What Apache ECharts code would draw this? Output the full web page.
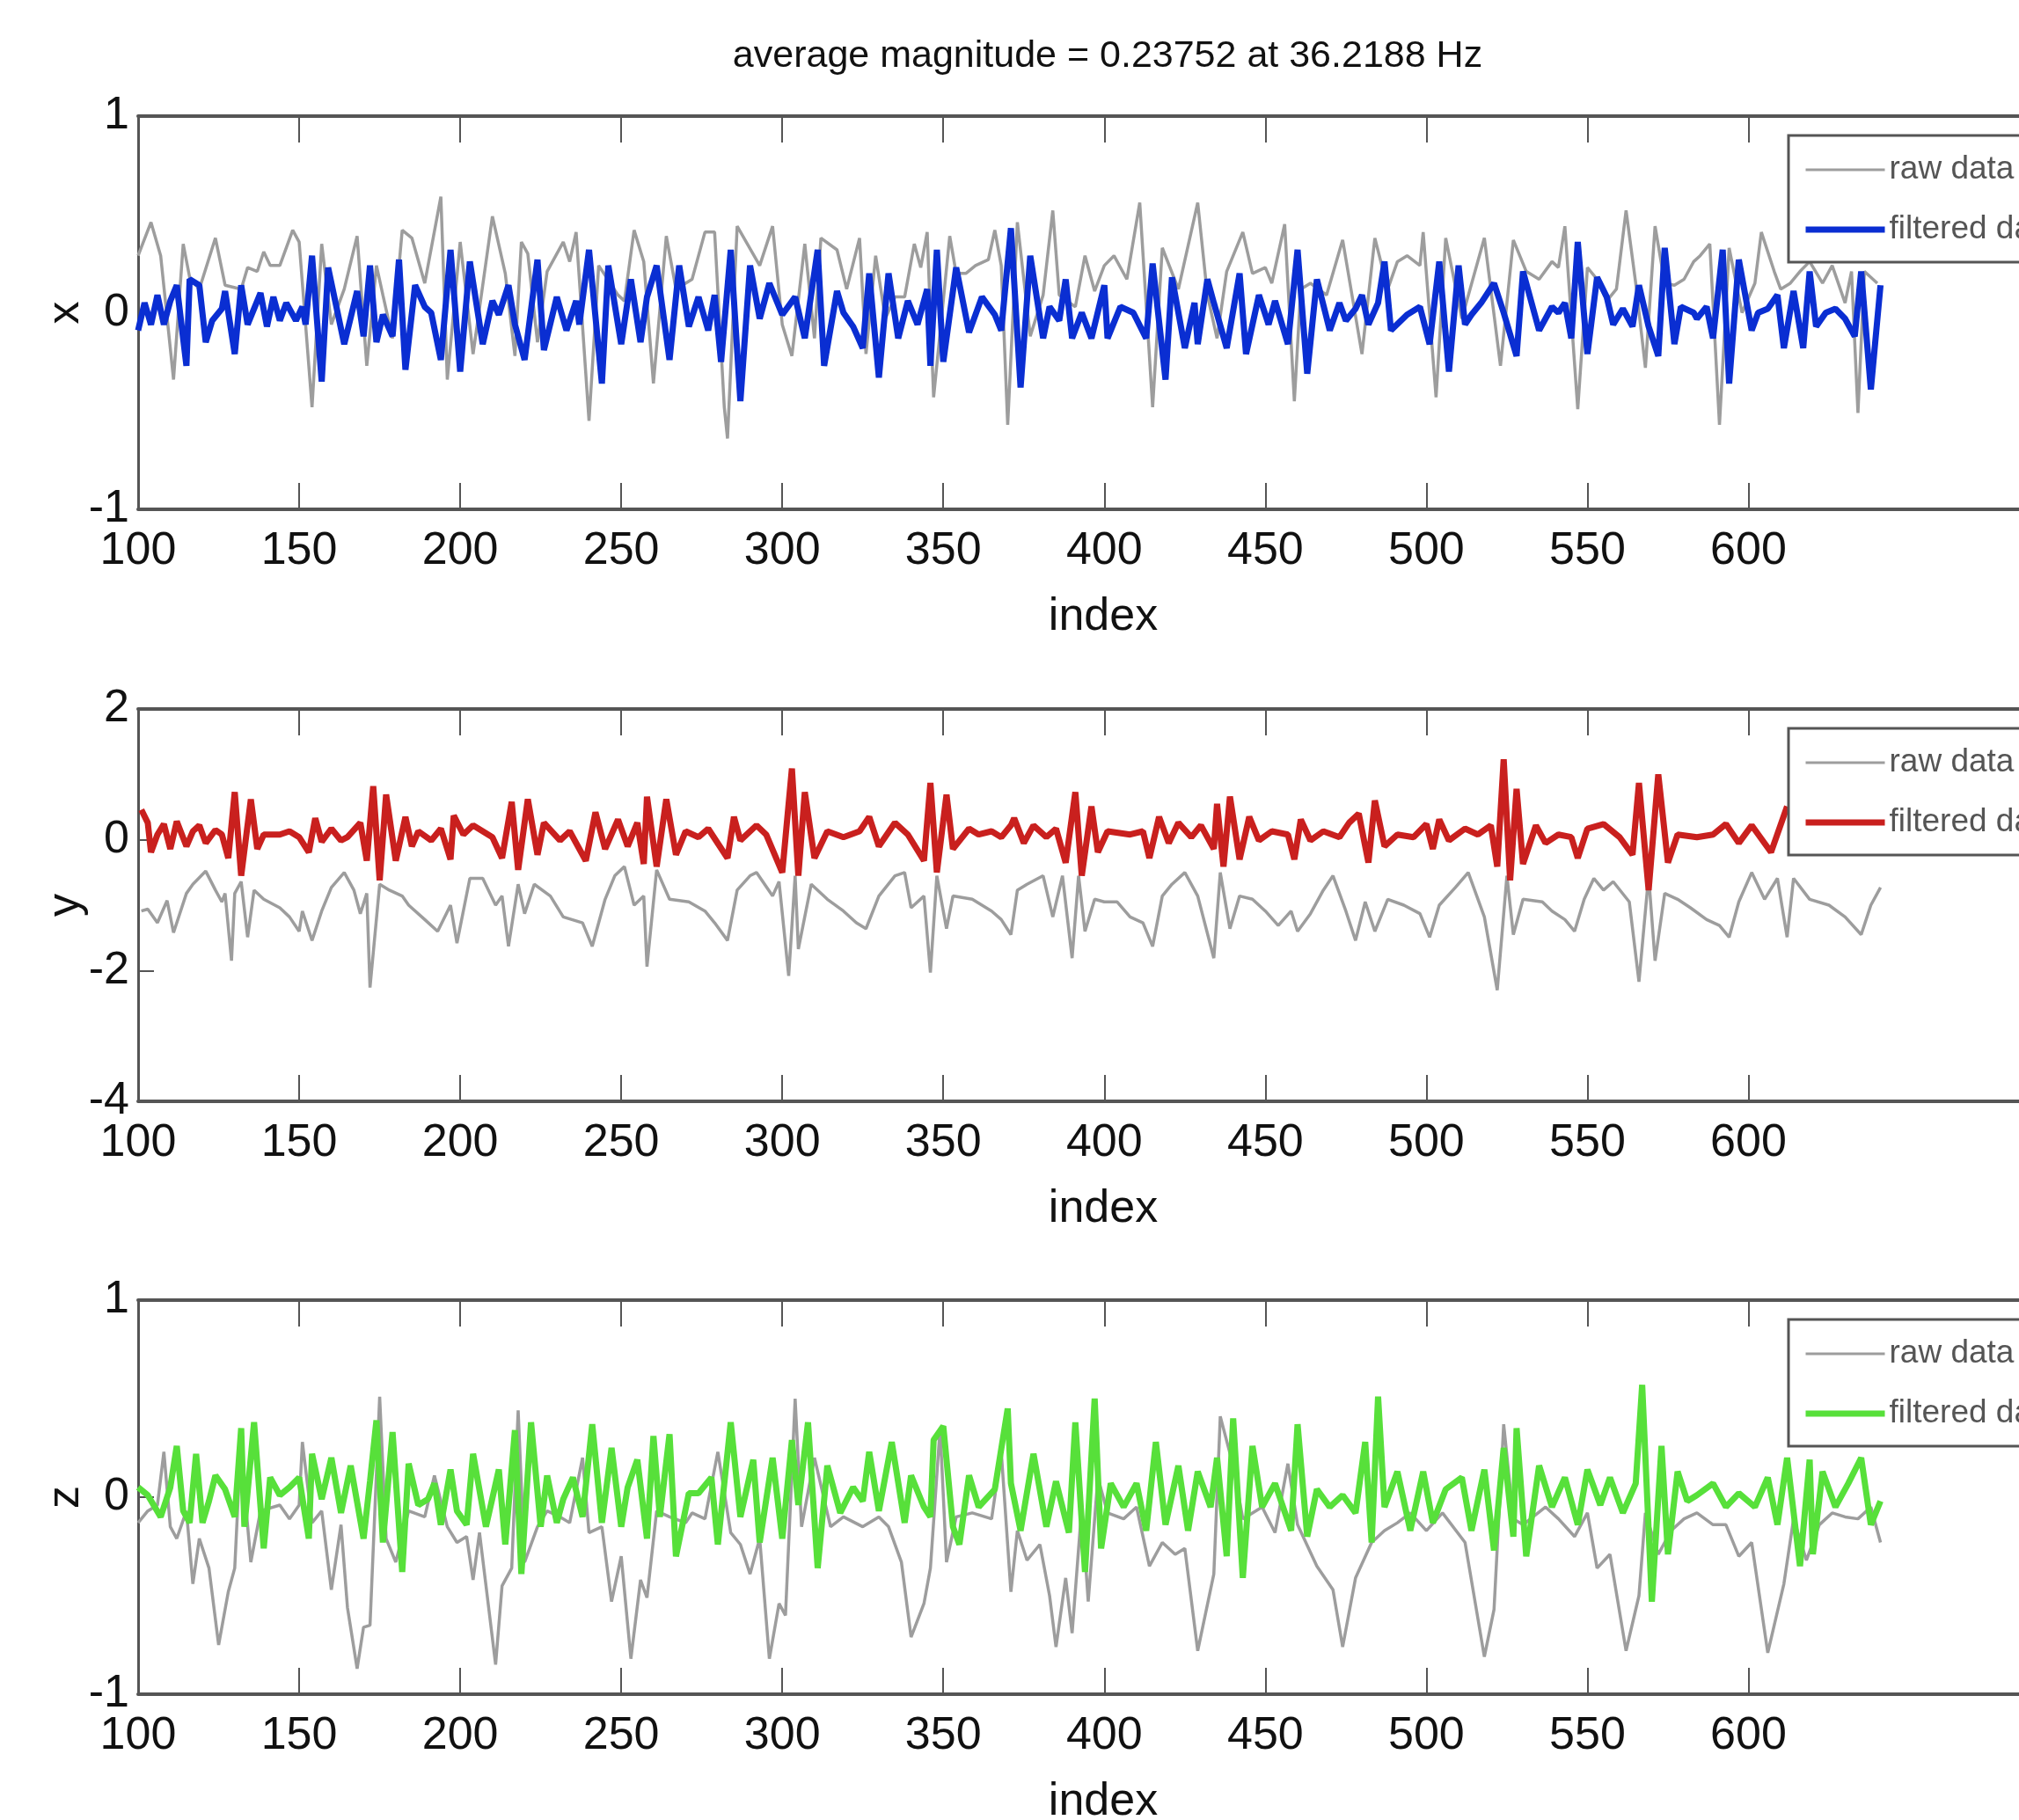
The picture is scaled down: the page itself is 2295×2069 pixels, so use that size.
<!DOCTYPE html>
<html>
<head>
<meta charset="utf-8">
<title>raw vs filtered</title>
<script src="https://cdn.jsdelivr.net/npm/echarts@6.0.0/dist/echarts.min.js"></script>
<style>
  html, body { margin: 0; padding: 0; background: #fff; }
  #chart { width: 2295px; height: 2069px; }
</style>
</head>
<body>
<div id="chart"></div>
<script>
// values: [index, value]
const xTickValues = [100, 150, 200, 250, 300, 350, 400, 450, 500, 550, 600]

const xRaw = [
  [100,0.29],[104,0.46],[107,0.29],[111,-0.34],[114,0.35],[116,0.18],[119,0.12],[124,0.38],[127,0.14],[132,0.12],
  [134,0.23],[137,0.21],[139,0.31],[141,0.24],[144,0.24],[148,0.42],[150,0.36],[154,-0.48],[157,0.35],[160,-0.06],
  [164,0.12],[168,0.39],[171,-0.27],[174,0.24],[176,0.09],[179,-0.13],[182,0.42],[185,0.38],[189,0.15],[194,0.59],
  [196,-0.34],[200,0.36],[204,-0.21],[210,0.49],[214,0.20],[217,-0.22],[219,0.36],[221,0.30],[224,-0.15],[227,0.21],
  [232,0.36],[234,0.26],[236,0.41],[240,-0.55],[243,0.24],[249,0.09],[251,0.06],[254,0.42],[257,0.26],[260,-0.36],
  [264,0.39],[267,0.12],[272,0.17],[276,0.41],[279,0.41],[282,-0.48],[283,-0.64],[286,0.44],[293,0.24],[297,0.44],
  [300,-0.06],[303,-0.22],[307,0.35],[310,-0.13],[312,0.38],[317,0.32],
  [320,0.12],[324,0.38],[326,-0.21],[329,0.29],[332,-0.03],[335,0.08],[338,0.08],[341,0.35],[343,0.23],[345,0.41],
  [347,-0.43],[352,0.39],[354,0.20],[357,0.20],[360,0.24],[364,0.27],[366,0.42],[368,0.24],[370,-0.57],[373,0.46],
  [377,-0.12],[381,0.09],[384,0.52],[386,0.09],[391,0.03],[394,0.29],[397,0.11],[400,0.24],[403,0.29],[407,0.17],
  [411,0.56],[415,-0.48],[418,0.33],[423,0.12],[429,0.56],[432,0.09],[435,-0.13],[438,0.21],[443,0.41],[446,0.20],
  [450,0.23],[452,0.15],[456,0.45],[459,-0.45],[461,0.12],[464,0.15],[469,0.09],[474,0.37],[480,-0.21],[484,0.38],
  [488,0.12],[491,0.26],[494,0.29],[498,0.24],[499,0.41],[503,-0.43],[506,0.38],[511,-0.03],[518,0.38],[523,-0.27],
  [527,0.37],[531,0.21],[535,0.17],
  [539,0.26],[541,0.23],[543,0.44],[547,-0.49],[550,0.23],[553,0.17],[556,0.06],[559,0.12],[562,0.52],[565,0.15],
  [568,-0.28],[571,0.44],[574,0.15],[577,0.14],[580,0.17],[583,0.26],[585,0.29],[588,0.35],[591,-0.57],[594,0.33],
  [598,0.0],[602,0.15],[604,0.41],[608,0.21],[610,0.12],[613,0.15],[616,0.21],[619,0.26],[623,0.15],[626,0.24],
  [630,0.05],[632,0.21],[634,-0.51],[636,0.21],[640,0.15]
]

const xFiltered = [
  [100,-0.09],[102,0.05],[104,-0.06],[106,0.09],[108,-0.06],[110,0.06],[112,0.14],[115,-0.27],[116,0.17],[119,0.14],
  [121,-0.15],[123,-0.04],[126,0.02],[127,0.11],[130,-0.21],[132,0.14],[134,-0.06],[138,0.10],[140,-0.07],[142,0.08],
  [144,-0.04],[146,0.05],[149,-0.04],[151,0.03],[152,-0.06],[154,0.29],[157,-0.35],[159,0.23],[164,-0.16],[168,0.11],
  [170,-0.12],[172,0.24],[174,-0.15],[176,-0.01],[179,-0.12],[181,0.27],[183,-0.29],[186,0.14],[189,0.03],[191,0.0],
  [194,-0.24],[197,0.32],[200,-0.30],[203,0.26],[207,-0.16],[210,0.06],[212,-0.01],[215,0.14],[217,-0.06],[220,-0.24],
  [224,0.27],[226,-0.19],[230,0.08],[233,-0.09],[236,0.06],[237,-0.06],[240,0.32],[244,-0.36],[246,0.24],[250,-0.16],
  [253,0.17],[256,-0.15],[258,0.08],[261,0.24],[265,-0.24],[268,0.24],[271,-0.07],[274,0.08],[277,-0.09],[279,0.09],
  [281,-0.25],[284,0.32],[287,-0.45],[290,0.24],[293,-0.03],[296,0.15],[300,-0.01],[304,0.08],[307,-0.13],[311,0.32],
  [313,-0.27],[317,0.11],
  [319,0.0],[322,-0.07],[325,-0.18],[327,0.20],[330,-0.33],[333,0.20],[336,-0.13],[339,0.06],[342,-0.06],[345,0.12],
  [346,-0.27],[348,0.32],[350,-0.25],[354,0.23],[358,-0.10],[362,0.08],[366,-0.01],[368,-0.09],[371,0.43],[374,-0.38],
  [377,0.29],[381,-0.13],[383,0.03],[386,-0.04],[388,0.17],[390,-0.13],[393,0.0],[396,-0.13],[400,0.14],[401,-0.13],
  [405,0.03],[409,0.0],[413,-0.13],[415,0.25],[419,-0.34],[421,0.18],[425,-0.18],[428,0.05],[429,-0.16],[432,0.17],
  [434,0.05],[438,-0.18],[442,0.20],[444,-0.21],[448,0.09],[451,-0.06],[453,0.06],[457,-0.16],[460,0.32],[463,-0.31],
  [466,0.17],[470,-0.09],[473,0.05],[475,-0.04],[478,0.02],[480,0.09],[482,-0.06],[485,0.05],[487,0.26],[489,-0.09],
  [494,-0.01],[498,0.03],[501,-0.16],[504,0.26],[507,-0.30],[510,0.24],[512,-0.06],[514,-0.01],[517,0.05],[521,0.15],
  [524,0.0],[528,-0.22],[530,0.21],[535,-0.09],
  [539,0.03],[541,0.0],[543,0.05],[545,-0.13],[547,0.36],[550,-0.21],[553,0.18],[556,0.08],[558,-0.06],[561,0.02],
  [564,-0.07],[566,0.14],[569,-0.07],[572,-0.22],[574,0.33],[577,-0.16],[579,0.03],[583,0.0],[584,-0.03],[587,0.03],
  [589,-0.13],[592,0.32],[594,-0.36],[597,0.27],[601,-0.09],[603,0.0],[606,0.02],[609,0.09],[611,-0.18],[614,0.11],
  [617,-0.18],[619,0.21],[621,-0.07],[624,0.0],[627,0.02],[630,-0.03],[633,-0.12],[635,0.21],[638,-0.39],[641,0.14]
]

const yRaw = [
  [101,-1.09],[103,-1.06],[106,-1.27],[109,-0.93],[111,-1.42],[115,-0.82],[117,-0.68],[121,-0.48],[124,-0.77],[126,-0.95],
  [127,-0.82],[129,-1.85],[130,-0.82],[132,-0.64],[134,-1.49],[136,-0.77],[139,-0.91],[144,-1.04],[147,-1.18],[150,-1.40],
  [151,-1.09],[154,-1.54],[157,-1.09],[160,-0.73],[164,-0.50],[167,-0.77],[169,-1.13],[171,-0.82],[172,-2.26],[175,-0.68],
  [178,-0.77],[182,-0.86],[184,-1.00],[189,-1.22],[193,-1.40],[197,-1.00],[199,-1.58],[203,-0.59],[207,-0.59],[211,-1.00],
  [213,-0.86],[215,-1.63],[218,-0.68],[220,-1.13],[223,-0.68],[228,-0.86],[232,-1.18],[238,-1.27],[241,-1.63],[245,-0.91],
  [248,-0.55],[251,-0.41],[254,-1.00],[257,-0.86],[258,-1.94],[261,-0.46],[265,-0.91],[271,-0.95],[276,-1.09],[279,-1.27],
  [283,-1.54],[286,-0.77],[290,-0.55],[292,-0.50],[297,-0.86],[299,-0.64],[302,-2.08],[304,-0.55],[305,-1.67],[309,-0.68],
  [314,-0.91],[319,-1.09],[323,-1.27],[326,-1.36],[330,-0.86],[335,-0.55],[338,-0.50],[340,-1.04],[344,-0.86],[346,-2.03],
  [348,-0.55],[351,-1.36],[353,-0.86],[359,-0.91],[365,-1.09],[368,-1.22],[371,-1.45],
  [373,-0.77],[376,-0.68],[381,-0.55],[384,-1.18],[387,-0.55],[390,-1.81],[392,-0.55],[394,-1.40],[397,-0.91],[400,-0.95],
  [404,-0.95],[408,-1.18],[412,-1.27],[415,-1.63],[418,-0.86],[421,-0.68],[425,-0.50],[429,-0.86],[434,-1.81],[436,-0.50],
  [439,-1.36],[442,-0.86],[446,-0.91],[450,-1.09],[454,-1.31],[458,-1.09],[460,-1.40],[464,-1.13],[468,-0.77],[471,-0.55],
  [475,-1.09],[478,-1.54],[481,-0.95],[484,-1.40],[488,-0.91],[493,-1.00],[498,-1.13],[501,-1.49],[504,-1.00],[509,-0.73],
  [513,-0.50],[518,-1.18],[522,-2.30],[525,-0.55],[527,-1.45],[530,-0.91],[536,-0.95],[539,-1.09],[543,-1.22],[546,-1.40],
  [549,-0.91],[552,-0.59],[555,-0.77],[558,-0.64],[563,-0.95],[566,-2.17],[569,-0.55],[571,-1.85],[574,-0.82],[578,-0.91],
  [582,-1.04],[587,-1.22],[591,-1.31],[594,-1.49],[597,-0.95],[601,-0.50],[605,-0.91],[609,-0.59],[612,-1.49],[614,-0.59],
  [619,-0.91],[625,-1.00],[630,-1.18],[635,-1.45],[638,-1.00],[641,-0.73]
]

const yFiltered = [
  [101,0.46],[103,0.26],[104,-0.19],[106,0.08],[108,0.24],[110,-0.14],[112,0.28],[115,-0.10],[117,0.13],[119,0.22],
  [121,-0.05],[124,0.15],[126,0.08],[128,-0.28],[130,0.73],[132,-0.55],[135,0.62],[137,-0.14],[139,0.08],[144,0.08],
  [147,0.13],[150,0.04],[153,-0.19],[155,0.33],[157,-0.03],[160,0.17],[163,-0.01],[165,0.04],[169,0.26],[171,-0.32],
  [173,0.82],[175,-0.62],[177,0.69],[180,-0.32],[183,0.35],[185,-0.10],[187,0.13],[191,-0.01],[194,0.17],[197,-0.30],
  [198,0.37],[201,0.08],[204,0.22],[210,0.04],[213,-0.28],[216,0.58],[218,-0.46],[221,0.62],[224,-0.23],[226,0.26],
  [231,-0.01],[234,0.13],[239,-0.32],[242,0.42],[245,-0.14],[249,0.31],[252,-0.10],[255,0.26],[257,-0.37],[258,0.66],
  [261,-0.41],[264,0.62],[267,-0.23],[270,0.13],[274,0.04],[277,0.17],[283,-0.28],[285,0.35],[287,-0.01],[292,0.22],
  [295,0.08],[300,-0.50],[303,1.09],[305,-0.55],[307,0.73],[310,-0.28],[314,0.13],[319,0.04],[324,0.13],[327,0.35],
  [330,-0.10],[335,0.26],[339,0.08],[344,-0.32],[346,0.87],[348,-0.50],[351,0.69],[353,-0.14],[358,0.17],[361,0.08],
  [365,0.13],[368,0.04],[371,0.22],
  [372,0.33],[375,-0.05],[378,0.22],[382,0.04],[385,0.17],[388,-0.35],[391,0.73],[393,-0.55],[396,0.51],[398,-0.19],
  [401,0.13],[408,0.08],[412,0.13],[414,-0.28],[417,0.35],[420,-0.05],[423,0.26],[427,0.04],[430,0.22],[434,-0.14],
  [435,0.55],[437,-0.41],[439,0.66],[442,-0.30],[445,0.35],[448,-0.01],[452,0.13],[457,0.08],[459,-0.30],[461,0.31],
  [464,-0.01],[468,0.13],[473,0.04],[476,0.26],[479,0.40],[482,-0.35],[484,0.60],[487,-0.10],[491,0.08],[496,0.04],
  [500,0.24],[502,-0.14],[504,0.31],[507,-0.01],[512,0.17],[516,0.08],[520,0.22],[522,-0.41],[524,1.23],[526,-0.62],
  [528,0.78],[530,-0.37],[534,0.22],[537,-0.05],[541,0.08],[545,0.04],[547,-0.28],[550,0.17],[555,0.24],[560,0.04],
  [564,-0.23],[566,0.87],[569,-0.77],[572,1.00],[575,-0.35],[578,0.08],[584,0.04],[589,0.08],[593,0.24],[597,-0.05],
  [601,0.22],[607,-0.19],[612,0.51]
]

const zRaw = [
  [100,-0.13],[103,-0.07],[106,-0.04],[108,0.23],[110,-0.15],[112,-0.21],[115,-0.07],[117,-0.44],[119,-0.21],[122,-0.36],
  [125,-0.75],[128,-0.48],[130,-0.36],[132,0.31],[133,0.04],[135,-0.33],[138,-0.07],[144,-0.04],[147,-0.11],[150,-0.04],
  [151,0.28],[154,-0.13],[157,-0.07],[160,-0.47],[163,-0.14],[165,-0.56],[168,-0.87],[170,-0.66],[172,-0.65],[175,0.51],
  [177,-0.21],[180,-0.33],[184,-0.07],[189,-0.10],[192,0.11],[196,-0.15],[199,-0.23],[202,-0.20],[204,-0.42],[206,-0.18],
  [211,-0.85],[213,-0.45],[216,-0.36],[218,0.44],[220,-0.33],[224,-0.15],[227,-0.07],[231,-0.10],[234,-0.13],[238,0.20],
  [240,-0.18],[244,-0.15],[247,-0.53],[250,-0.30],[253,-0.82],[256,-0.42],[258,-0.51],[261,-0.07],[265,-0.10],[270,-0.13],
  [272,-0.08],[276,-0.11],[280,0.23],[284,-0.18],[287,-0.24],[290,-0.39],[293,-0.21],[296,-0.82],[299,-0.54],[301,-0.60],
  [304,0.50],[306,-0.15],[310,0.20],[315,-0.15],[319,-0.10],[325,-0.15],[330,-0.10],[333,-0.15],[337,-0.33],[340,-0.71],
  [344,-0.54],[346,-0.36],[349,0.35],[351,-0.33],[354,-0.10],[359,-0.08],[365,-0.11],[368,0.23],[371,-0.48],
  [373,-0.17],[376,-0.32],[380,-0.24],[383,-0.50],[385,-0.76],[388,-0.41],[390,-0.69],[393,-0.05],[395,-0.53],[398,0.10],
  [401,-0.08],[406,-0.11],[410,-0.05],[414,-0.35],[418,-0.23],[422,-0.29],[425,-0.26],[429,-0.78],[434,-0.39],[436,0.41],
  [440,0.16],[443,-0.11],[449,-0.05],[453,-0.18],[457,0.17],[460,-0.14],[466,-0.35],[471,-0.47],[474,-0.76],[478,-0.41],
  [483,-0.23],[487,-0.17],[491,-0.13],[495,-0.08],[500,-0.17],[505,-0.08],[512,-0.23],[518,-0.81],[521,-0.57],[524,0.37],
  [527,-0.11],[530,-0.14],[537,-0.05],[541,-0.11],[546,-0.20],[550,-0.08],[553,-0.36],[557,-0.29],[562,-0.78],[566,-0.50],
  [568,-0.08],[572,-0.29],[576,-0.17],[580,-0.11],[584,-0.08],[589,-0.14],[593,-0.14],[597,-0.30],[601,-0.23],[606,-0.79],
  [611,-0.44],[614,-0.11],[618,-0.32],[622,-0.14],[626,-0.08],[630,-0.10],[634,-0.11],[638,-0.05],[641,-0.23]
]

const zFiltered = [
  [100,0.05],[103,0.01],[107,-0.10],[110,0.05],[112,0.26],[114,-0.07],[116,-0.13],[118,0.22],[120,-0.13],[122,-0.02],
  [124,0.11],[127,0.04],[130,-0.10],[132,0.35],[133,-0.15],[136,0.38],[139,-0.26],[141,0.10],[144,0.01],[147,0.05],
  [150,0.10],[153,-0.21],[154,0.22],[157,-0.01],[160,0.20],[163,-0.08],[166,0.16],[170,-0.21],[172,0.08],[174,0.39],
  [176,-0.23],[179,0.33],[182,-0.38],[184,0.17],[187,-0.04],[190,-0.01],[192,0.07],[194,-0.14],[197,0.14],[199,-0.07],
  [202,-0.14],[204,0.22],[208,-0.15],[212,0.14],[214,-0.24],[217,0.34],[219,-0.39],[222,0.38],[225,-0.15],[227,0.11],
  [230,-0.13],[232,-0.01],[235,0.10],[238,-0.10],[241,0.37],[244,-0.13],[247,0.25],[250,-0.15],[252,0.05],[255,0.19],
  [258,-0.21],[260,0.31],[262,-0.10],[265,0.32],[267,-0.30],[271,0.02],[274,0.02],[278,0.10],[280,-0.24],[284,0.38],
  [287,-0.10],[291,0.19],[293,-0.23],[297,0.20],[300,-0.21],[303,0.29],[305,-0.04],[308,0.38],[311,-0.36],[314,0.16],
  [318,-0.08],[322,0.05],[325,-0.02],[327,0.23],[330,-0.07],[334,0.28],[338,-0.13],[340,0.11],[344,-0.05],[346,-0.10],
  [347,0.29],[350,0.36],[353,-0.15],[355,-0.24],[358,0.11],[361,-0.05],[366,0.04],[370,0.45],[371,0.07],
  [374,-0.17],[378,0.22],[382,-0.15],[385,0.08],[389,-0.18],[391,0.38],[394,-0.38],[397,0.50],[399,-0.26],[402,0.07],
  [406,-0.05],[410,0.07],[413,-0.17],[416,0.28],[419,-0.14],[423,0.16],[426,-0.17],[429,0.13],[433,-0.05],[435,0.20],
  [438,-0.30],[440,0.40],[443,-0.41],[446,0.26],[449,-0.05],[453,0.07],[458,-0.17],[460,0.37],[463,-0.20],[466,0.04],
  [470,-0.05],[474,0.01],[478,-0.08],[481,0.28],[483,-0.23],[485,0.51],[487,-0.05],[491,0.13],[495,-0.17],[499,0.13],
  [502,-0.13],[506,0.04],[511,0.10],[514,-0.17],[518,0.14],[521,-0.27],[524,0.25],[527,-0.20],[528,0.35],[531,-0.30],
  [535,0.16],[539,-0.05],[543,0.10],[547,-0.14],[550,0.14],[554,-0.04],[557,0.10],[561,-0.08],[565,0.07],[567,0.57],
  [570,-0.53],[573,0.26],[575,-0.29],[578,0.13],[581,-0.02],[584,0.01],[589,0.07],[593,-0.05],[597,0.02],[602,-0.05],
  [606,0.10],[609,-0.14],[612,0.20],[616,-0.35],[619,0.19],[620,-0.29],[623,0.13],[627,-0.05],[631,0.07],[635,0.20],
  [638,-0.14],[641,-0.02]
]

const titleText = 'average magnitude = 0.23752 at 36.2188 Hz'

const FONT = '"Liberation Sans", Arial, Helvetica, sans-serif'
const INK = '#111'
const FRAME = '#555'
const RAW_COLOR = '#9d9d9d'

const panels = [
  { key: 'x', raw: xRaw, filtered: xFiltered, color: '#0a2ed2', min: -1, max: 1, interval: 1, top: 132, height: 447 },
  { key: 'y', raw: yRaw, filtered: yFiltered, color: '#c9201e', min: -4, max: 2, interval: 2, top: 806, height: 446 },
  { key: 'z', raw: zRaw, filtered: zFiltered, color: '#57e03a', min: -1, max: 1, interval: 1, top: 1478, height: 448 }
]

// the frame runs off the right edge of the picture, so the grid reaches the edge
const X_MIN = 100
const X_MAX = 684

const grid = []
const xAxis = []
const yAxis = []
const series = []
const legend = []

panels.forEach((p, i) => {
  grid.push({ left: 157, top: p.top, right: 0, height: p.height, show: false, outerBoundsMode: 'none' })

  const frameLine = { show: true, onZero: false, lineStyle: { color: FRAME, width: 4 } }
  const ticks = { inside: true, length: 30, customValues: xTickValues, lineStyle: { color: FRAME, width: 2 } }

  // bottom axis, with labels
  xAxis.push({
    type: 'value', gridIndex: i, position: 'bottom', min: X_MIN, max: X_MAX,
    name: 'index', nameLocation: 'middle', nameGap: 97, nameMoveOverlap: false,
    nameTextStyle: { fontFamily: FONT, fontSize: 52, color: INK, padding: [0, 0, 0, 56] },
    axisLine: frameLine,
    axisTick: ticks,
    axisLabel: { customValues: xTickValues, margin: 22, fontFamily: FONT, fontSize: 52, color: INK },
    splitLine: { show: false }
  })
  // top axis, ticks only
  xAxis.push({
    type: 'value', gridIndex: i, position: 'top', min: X_MIN, max: X_MAX,
    axisLine: frameLine,
    axisTick: ticks,
    axisLabel: { show: false },
    splitLine: { show: false }
  })

  yAxis.push({
    type: 'value', gridIndex: i, min: p.min, max: p.max, interval: p.interval,
    name: p.key, nameLocation: 'middle', nameRotate: 90, nameGap: 56, nameMoveOverlap: false,
    nameTextStyle: { fontFamily: FONT, fontSize: 52, color: INK },
    axisLine: { show: true, onZero: false, lineStyle: { color: FRAME, width: 3 } },
    axisTick: { inside: true, length: 18, lineStyle: { color: FRAME, width: 2 } },
    axisLabel: { margin: 10, fontFamily: FONT, fontSize: 52, color: INK },
    splitLine: { show: false }
  })

  series.push({
    name: p.key + ' raw', type: 'line', xAxisIndex: i * 2, yAxisIndex: i,
    data: p.raw, symbol: 'none', z: 2, color: RAW_COLOR,
    lineStyle: { color: RAW_COLOR, width: 3.5 }
  })
  series.push({
    name: p.key + ' filtered', type: 'line', xAxisIndex: i * 2, yAxisIndex: i,
    data: p.filtered, symbol: 'none', z: 3, color: p.color,
    lineStyle: { color: p.color, width: 7 }
  })

  legend.push({
    orient: 'vertical', left: 2033, top: p.top + 22,
    padding: [16, 16, 14, 16], itemGap: 22, itemWidth: 90, itemHeight: 16,
    backgroundColor: '#fff', borderColor: FRAME, borderWidth: 3,
    data: [
      { name: p.key + ' raw', itemStyle: { opacity: 0 }, lineStyle: { width: 3, color: RAW_COLOR } },
      { name: p.key + ' filtered', itemStyle: { opacity: 0 }, lineStyle: { width: 7, color: p.color } }
    ],
    formatter: name => name.endsWith('raw') ? 'raw data' : 'filtered data',
    textStyle: { fontFamily: FONT, fontSize: 37, lineHeight: 46, color: '#555' }
  })
})

const chart = echarts.init(document.getElementById('chart'))
chart.setOption({
  animation: false,
  backgroundColor: '#fff',
  title: {
    text: titleText, left: 1254, top: 38, textAlign: 'center',
    textStyle: { fontFamily: FONT, fontSize: 43, fontWeight: 'normal', color: INK }
  },
  grid, xAxis, yAxis, legend, series
})
</script>
</body>
</html>
